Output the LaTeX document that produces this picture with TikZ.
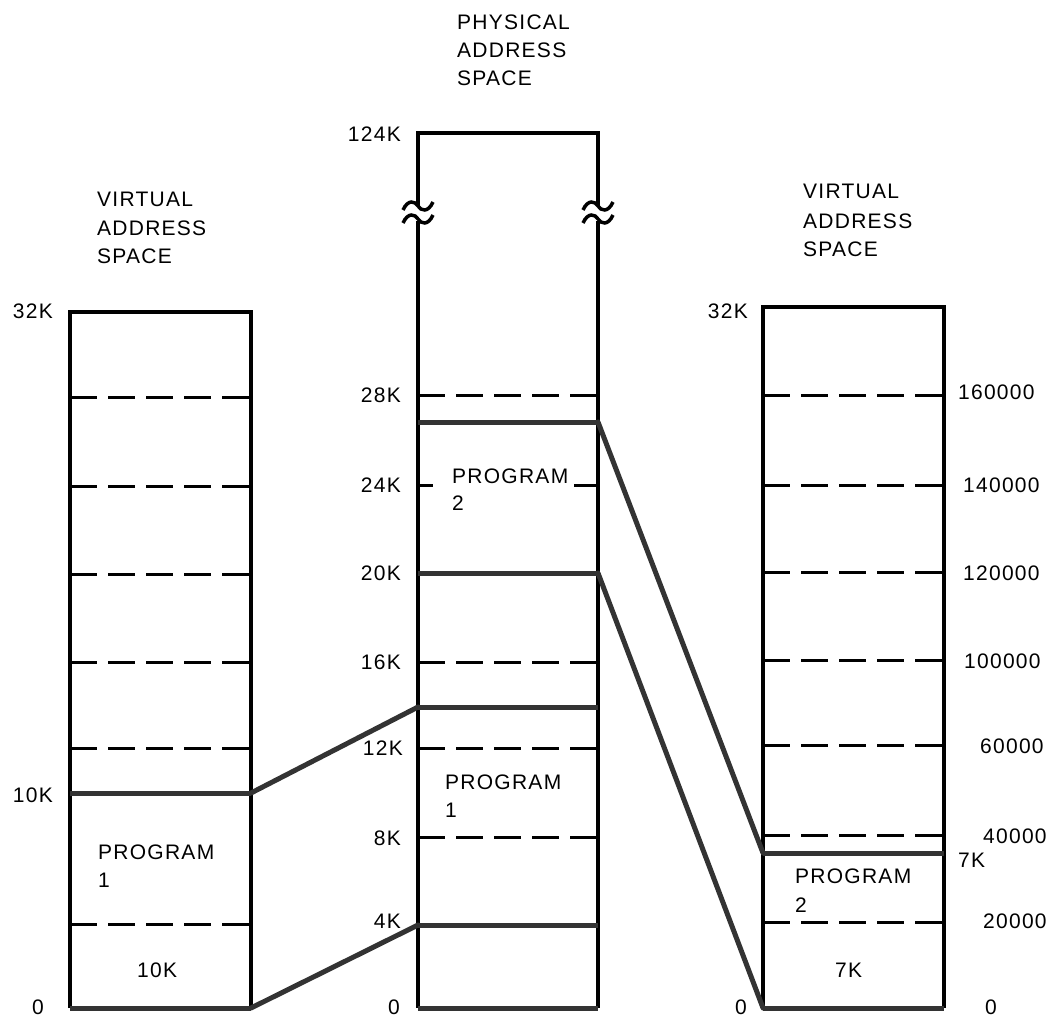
\documentclass[tikz,border=0pt]{standalone}
\usepackage{fontspec}
\setmainfont{Liberation Sans}[LetterSpace=6]
\begin{document}
\begin{tikzpicture}[x=1pt,y=-1pt,
  lbl/.style={font=\fontsize{21}{28}\selectfont, inner sep=0pt},
  lw/.style={lbl, anchor=base west},
  le/.style={lbl, anchor=base east},
  boxline/.style={line width=3.5pt, line join=miter},
  sepline/.style={line width=5pt, black!80},
  dsh/.style={line width=3pt, dash pattern=on 27pt off 11pt},
  conn/.style={line width=5pt, black!80, line cap=round},
  wave/.style={line width=3.5pt}]
\useasboundingbox (0,0) rectangle (1049,1019);

% ---------- left virtual box ----------
\draw[boxline] (70,1008) -- (70,312) -- (251,312) -- (251,1008);
\foreach \yy in {397,486,574,662,748,924} \draw[dsh] (70,\yy) -- (251,\yy);
\draw[sepline] (70,793) -- (251,793);
\draw[sepline] (70,1008) -- (251,1008);
\coordinate (L10k) at (251,793);
\coordinate (L0) at (251,1008);

% ---------- middle physical box ----------
\draw[boxline] (418,206) -- (418,133) -- (598,133) -- (598,206);
\draw[boxline] (418,221) -- (418,1008);
\draw[boxline] (598,221) -- (598,1008);
\foreach \wx in {418,598}
  \foreach \wy in {207,220}
    \draw[wave, shift={(\wx,\wy)}] (-15,3) .. controls (-10,-8) and (-3,-6) .. (0,-1)
      .. controls (3,4) and (10,6) .. (15,-5);
\foreach \yy in {395,662,748,837} \draw[dsh] (418,\yy) -- (598,\yy);
\draw[line width=3pt] (418,485) -- (433,485);
\draw[line width=3pt] (574,485) -- (598,485);
\foreach \yy in {422,573,707,925,1008} \draw[sepline] (418,\yy) -- (598,\yy);
\coordinate (M14) at (418,707);
\coordinate (M4) at (418,925);
\coordinate (M27) at (598,422);
\coordinate (M20) at (598,573);

% ---------- right virtual box ----------
\draw[boxline] (763,1008) -- (763,307) -- (944,307) -- (944,1008);
\foreach \yy in {395,485,572,660,745,835,922} \draw[dsh] (763,\yy) -- (944,\yy);
\draw[sepline] (763,853) -- (944,853);
\draw[sepline] (763,1008) -- (944,1008);
\coordinate (R7) at (763,853);
\coordinate (R0) at (763,1008);

% ---------- connectors ----------
\draw[conn] (L10k) -- (M14);
\draw[conn] (L0) -- (M4);
\draw[conn] (M27) -- (R7);
\draw[conn] (M20) -- (R0);

% ---------- titles ----------
\node[lw] (pt1) at (457,30) {PHYSICAL};
\node[lw] (pt2) at (457,58) {ADDRESS};
\node[lw] (pt3) at (457,86) {SPACE};
\node[lw] (lt1) at (97,207) {VIRTUAL};
\node[lw] (lt2) at (97,235) {ADDRESS};
\node[lw] (lt3) at (97,263) {SPACE};
\node[lw] (rt1) at (803,199) {VIRTUAL};
\node[lw] (rt2) at (803,228) {ADDRESS};
\node[lw] (rt3) at (803,256) {SPACE};

% ---------- left labels ----------
\node[le] (l32) at (53,318) {32K};
\node[le] (l10) at (53,802) {10K};
\node[lw] (l0) at (32,1014) {0};
\node[lw] (lp1a) at (98,859) {PROGRAM};
\node[lw] (lp1b) at (98,887) {1};
\node[lw] (l10in) at (137,977) {10K};

% ---------- middle labels ----------
\node[le] (m124) at (401,142) {124K};
\node[le] (m28) at (401,402) {28K};
\node[le] (m24) at (401,492) {24K};
\node[le] (m20) at (401,580) {20K};
\node[le] (m16) at (401,669) {16K};
\node[le] (m12) at (403,755) {12K};
\node[le] (m8) at (401,845) {8K};
\node[le] (m4) at (401,928) {4K};
\node[lw] (m0) at (388,1014) {0};
\node[lw] (mp2a) at (452,483) {PROGRAM};
\node[lw] (mp2b) at (452,510) {2};
\node[lw] (mp1a) at (445,789) {PROGRAM};
\node[lw] (mp1b) at (445,817) {1};

% ---------- right labels ----------
\node[le] (r32) at (748,318) {32K};
\node[lw] (r0l) at (735,1014) {0};
\node[lw] (rp2a) at (795,883) {PROGRAM};
\node[lw] (rp2b) at (795,912) {2};
\node[lw] (r7in) at (835,977) {7K};
\node[lw] (n160) at (958,399) {160000};
\node[lw] (n140) at (963,492) {140000};
\node[lw] (n120) at (963,580) {120000};
\node[lw] (n100) at (964,668) {100000};
\node[lw] (n60) at (980,753) {60000};
\node[lw] (n40) at (983,843) {40000};
\node[lw] (n7k) at (958,867) {7K};
\node[lw] (n20) at (983,928) {20000};
\node[lw] (n0) at (985,1014) {0};
\end{tikzpicture}
\end{document}
